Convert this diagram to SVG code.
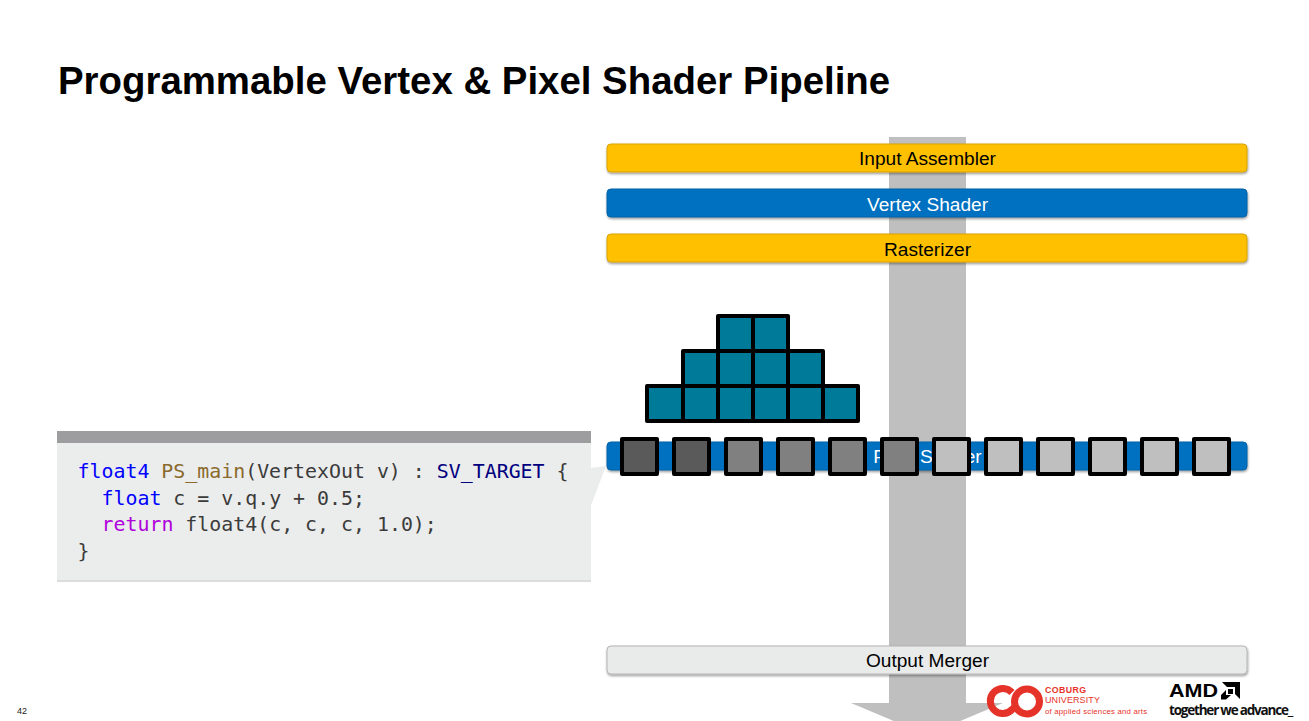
<svg xmlns="http://www.w3.org/2000/svg" width="1309" height="721" viewBox="0 0 1309 721">
<defs>
<filter id="sh" x="-2%" y="-20%" width="104%" height="150%"><feDropShadow dx="0.5" dy="1.5" stdDeviation="1.2" flood-color="#000" flood-opacity="0.4"/></filter>
</defs>
<style>
text{font-family:"Liberation Sans",Arial,sans-serif}
.bar{stroke-width:1;filter:url(#sh)}
.lbl{font-size:19.1px;text-anchor:middle}
.code{font-family:"DejaVu Sans Mono","Liberation Mono",monospace;font-size:19.9px;fill:#3b3b3b;white-space:pre}
.kw{fill:#0000ff}.fn{fill:#8a6a2c}.ty{fill:#00007f}.rt{fill:#af00db}
.t{fill:#007a99;stroke:#000;stroke-width:4;stroke-linejoin:round}
.p{stroke:#000;stroke-width:4;stroke-linejoin:round}
.d{fill:#5a5a5a}.m{fill:#808080}.l{fill:#bfbfbf}
</style>
<rect width="1309" height="721" fill="#fff"/>
<text id="title" x="58" y="94" font-size="38.400" font-weight="700" fill="#000">Programmable Vertex &amp; Pixel Shader Pipeline</text>
<g id="connectors">
<polygon points="889,137 966,137 966,703 1003,703 927,735 851,703 889,703" fill="#bfbfbf"/>
</g>
<g id="input-assembler"><rect class="bar" x="607" y="144" width="640" height="28" rx="4" fill="#ffc000" stroke="#d9a300"/><text class="lbl" x="927.500" y="165">Input Assembler</text></g>
<g id="vertex-shader"><rect class="bar" x="607" y="189" width="640" height="28" rx="4" fill="#0070c0" stroke="#0062a8"/><text class="lbl" x="927.500" y="211" fill="#fff">Vertex Shader</text></g>
<g id="rasterizer"><rect class="bar" x="607" y="234" width="640" height="28" rx="4" fill="#ffc000" stroke="#d9a300"/><text class="lbl" x="927.500" y="256">Rasterizer</text></g>
<g id="pixel-shader"><rect class="bar" x="607" y="442" width="640" height="28" rx="4" fill="#0070c0" stroke="#0062a8"/><text class="lbl" x="927.500" y="463" fill="#fff">Pixel Shader</text></g>
<g id="output-merger"><rect class="bar" x="607" y="646" width="640" height="28" rx="4" fill="#e9ebeb" stroke="#b5b5b5"/><text class="lbl" x="927.500" y="667">Output Merger</text></g>
<g id="fragments">
<rect class="t" x="718" y="316" width="35" height="35"/><rect class="t" x="753" y="316" width="35" height="35"/>
<rect class="t" x="683" y="351" width="35" height="35"/><rect class="t" x="718" y="351" width="35" height="35"/><rect class="t" x="753" y="351" width="35" height="35"/><rect class="t" x="788" y="351" width="35" height="35"/>
<rect class="t" x="647" y="386" width="36" height="35"/><rect class="t" x="683" y="386" width="35" height="35"/><rect class="t" x="718" y="386" width="35" height="35"/><rect class="t" x="753" y="386" width="35" height="35"/><rect class="t" x="788" y="386" width="35" height="35"/><rect class="t" x="823" y="386" width="35" height="35"/>
</g>
<g id="pixels">
<rect class="p d" x="622" y="439" width="35" height="35"/><rect class="p d" x="674" y="439" width="35" height="35"/>
<rect class="p m" x="726" y="439" width="35" height="35"/><rect class="p m" x="778" y="439" width="35" height="35"/><rect class="p m" x="830" y="439" width="35" height="35"/><rect class="p m" x="882" y="439" width="35" height="35"/>
<rect class="p l" x="934" y="439" width="35" height="35"/><rect class="p l" x="986" y="439" width="35" height="35"/><rect class="p l" x="1038" y="439" width="35" height="35"/><rect class="p l" x="1090" y="439" width="35" height="35"/><rect class="p l" x="1142" y="439" width="35" height="35"/><rect class="p l" x="1194" y="439" width="35" height="35"/>
</g>
<g id="code-callout">
<polygon points="590,468 606,466 590,508" fill="#ebecec"/>
<rect x="57" y="431" width="534" height="151" fill="#ebecec"/>
<rect x="57" y="431" width="534" height="12" fill="#9d9d9f"/>
<rect x="57" y="580" width="534" height="2" fill="#dcdcdc"/>
<text class="code" x="77.500" y="478"><tspan class="kw">float4</tspan> <tspan class="fn">PS_main</tspan>(VertexOut v) : <tspan class="ty">SV_TARGET</tspan> {</text>
<text class="code" x="101.500" y="505"><tspan class="kw">float</tspan> c = v.q.y + 0.5;</text>
<text class="code" x="101.500" y="531"><tspan class="rt">return</tspan> float4(c, c, c, 1.0);</text>
<text class="code" x="77.500" y="558">}</text>
</g>
<g id="footer">
<g fill="none" stroke="#e6332a" stroke-width="7">
<path d="M1012,692.500 A12.500,12.500 0 1 0 1012,709.500 L1016,706"/>
<circle cx="1027" cy="701.500" r="12.500"/>
</g>
<text x="17" y="714" font-size="9" fill="#222">42</text>
<g fill="#e6332a">
<text x="1045" y="693" font-size="8.800" font-weight="700" letter-spacing="0.4">COBURG</text>
<text x="1045" y="703" font-size="9" letter-spacing="0.1">UNIVERSITY</text>
<text x="1045" y="714" font-size="7.800" letter-spacing="0.2">of applied sciences and arts</text>
</g>
<text x="1169" y="697" font-size="17.500" font-weight="700" fill="#000" textLength="49" lengthAdjust="spacingAndGlyphs">AMD</text>
<path d="M1222,682 H1240 V699 L1235,694 V687 H1227 Z M1228,689 H1233 V694 H1228 Z M1226,690 V695 H1231 L1226,699.500 H1221 V695 Z" fill="#000"/>
<text x="1169" y="714.500" font-size="13.500" font-weight="700" fill="#111" letter-spacing="-1.2" style="font-family:'Open Sans',sans-serif">together we advance_</text>
</g>
</svg>
